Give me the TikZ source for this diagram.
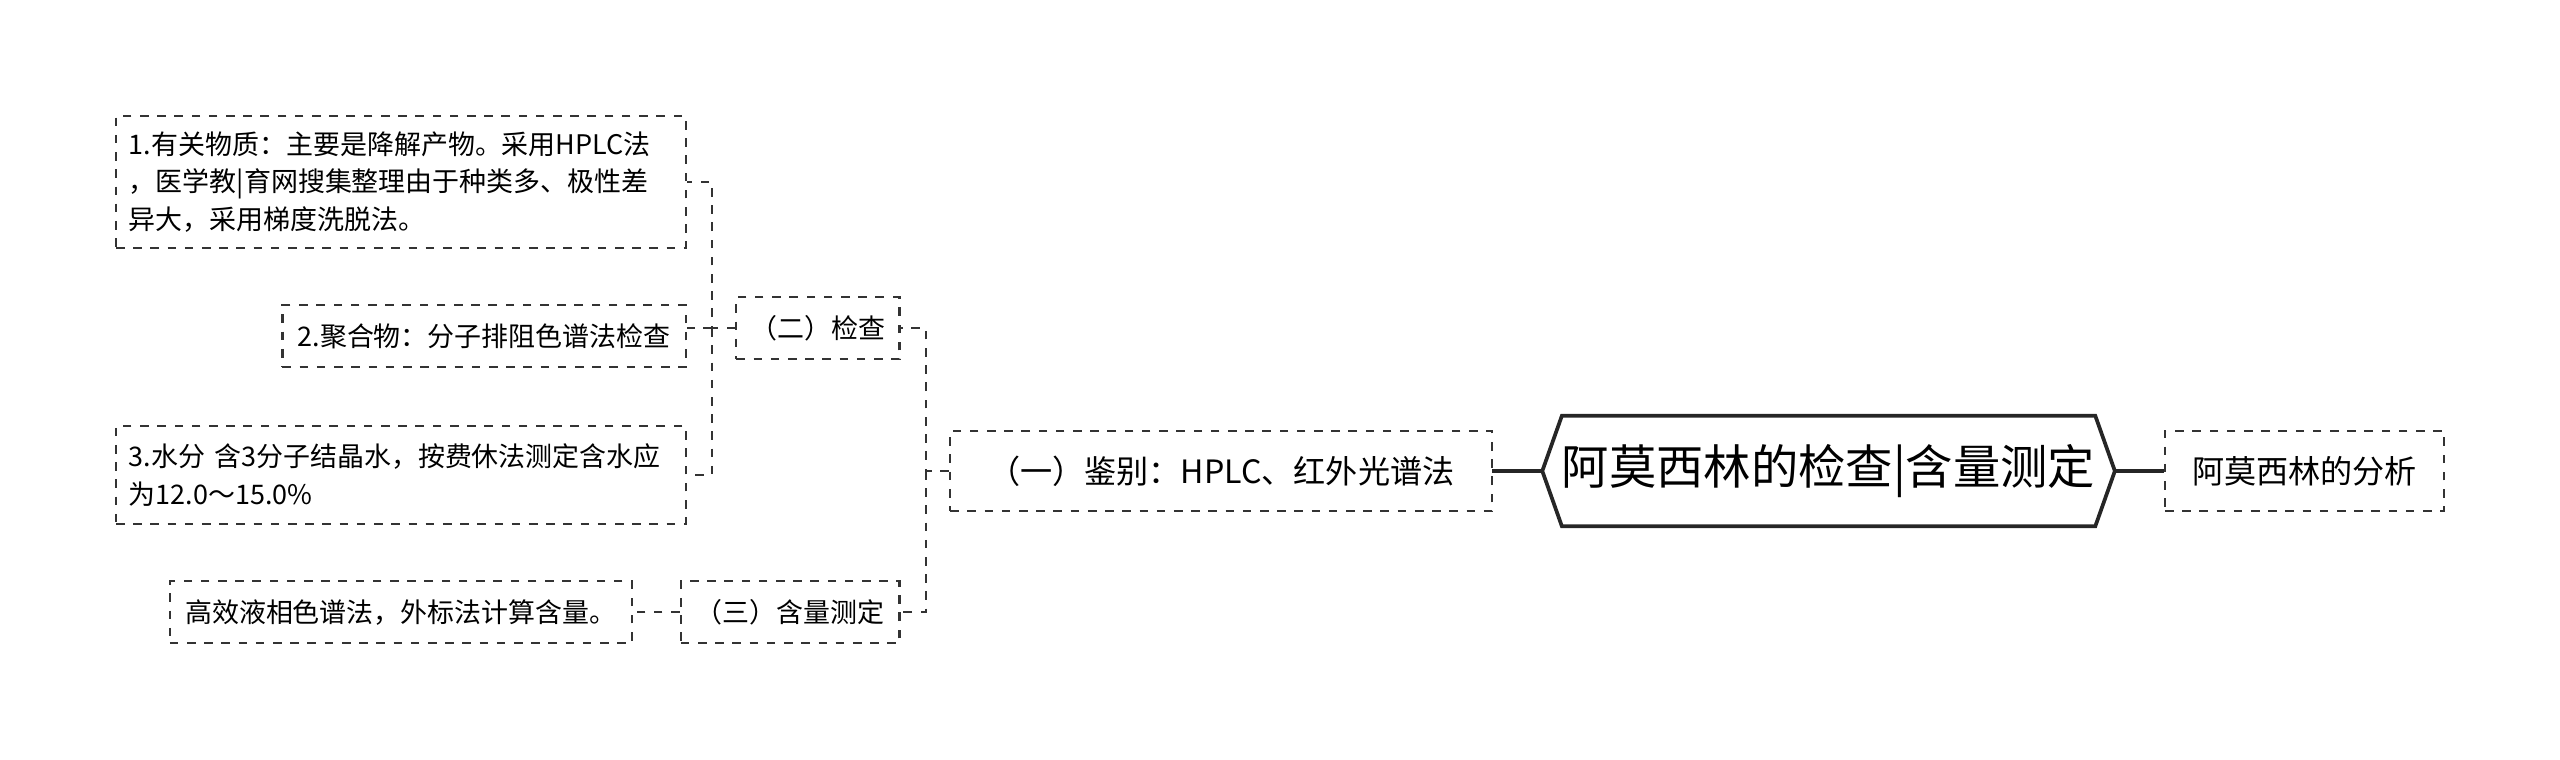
\documentclass[tikz,border=0pt]{standalone}
\usepackage{fontspec}
\setmainfont{Noto Sans CJK SC}
\usetikzlibrary{calc}
\tikzset{
  leaf/.style={draw=black!80,dashed,thick,inner sep=0pt,font=\fontsize{9.4}{13}\selectfont,align=left},
  mid/.style={leaf,font=\fontsize{11.2}{13}\selectfont},
  link/.style={draw=black!80,dashed,thick},
  trunk/.style={draw=black!85,line width=1.3pt}
}
\begin{document}
\begin{tikzpicture}[x=0.02cm,y=-0.02cm]
            \useasboundingbox (0,0) rectangle (1568,465);
            % root
            \node[font=\fontsize{16.5}{18}\selectfont,minimum width=350*0.02cm,minimum height=67*0.02cm,inner sep=0pt] (root) at (1120,288.5) {阿莫西林的检查|含量测定};
            \draw[trunk] ($(root.west)+(0,0)$) -- ($(root.north west)+(12,0)$) -- ($(root.north east)+(-12,0)$)
                -- (root.east) -- ($(root.south east)+(-12,0)$) -- ($(root.south west)+(12,0)$) -- cycle;
            \node[mid,minimum width=171*0.02cm,minimum height=49*0.02cm] (fx) at (1411.5,288.5) {阿莫西林的分析};
            \node[mid,minimum width=332*0.02cm,minimum height=49*0.02cm] (jb) at (748,288.5) {（一）鉴别：HPLC、红外光谱法};
            \draw[trunk] (root.east) -- (fx.west);
            \draw[trunk] (root.west) -- (jb.west -| 914,0) ;
            % second level
            \node[leaf,minimum width=100*0.02cm,minimum height=38*0.02cm] (jc) at (501,201) {（二）检查};
            \node[leaf,minimum width=134*0.02cm,minimum height=38*0.02cm] (hl) at (484,375) {（三）含量测定};
            \coordinate (j1) at (567,288.5);
            \draw[link] (jb.west) -- (j1) |- (jc.east);
            \draw[link] (j1) |- (hl.east);
            % leaves
            \node[leaf,text width=333*0.02cm,inner xsep=8*0.02cm,minimum height=81*0.02cm] (yg) at (245.5,111.5)
                {1.有关物质：主要是降解产物。采用HPLC法\\，医学教|育网搜集整理由于种类多、极性差\\异大，采用梯度洗脱法。};
            \node[leaf,minimum width=247*0.02cm,minimum height=38*0.02cm] (jh) at (296.5,206) {2.聚合物：分子排阻色谱法检查};
            \node[leaf,text width=333*0.02cm,inner xsep=8*0.02cm,minimum height=60*0.02cm] (sf) at (245.5,291)
                {3.水分 含3分子结晶水，按费休法测定含水应\\为12.0～15.0\%};
            \node[leaf,minimum width=283*0.02cm,minimum height=38*0.02cm] (gx) at (245.5,375) {高效液相色谱法，外标法计算含量。};
            \coordinate (j2) at (436,201);
            \draw[link] (jc.west) -- (j2) |- (yg.east);
            \draw[link] (j2) |- (sf.east);
            \draw[link] (j2) -- (jh.east |- j2);
            \draw[link] (hl.west) -- (gx.east);
        \end{tikzpicture}
\end{document}
